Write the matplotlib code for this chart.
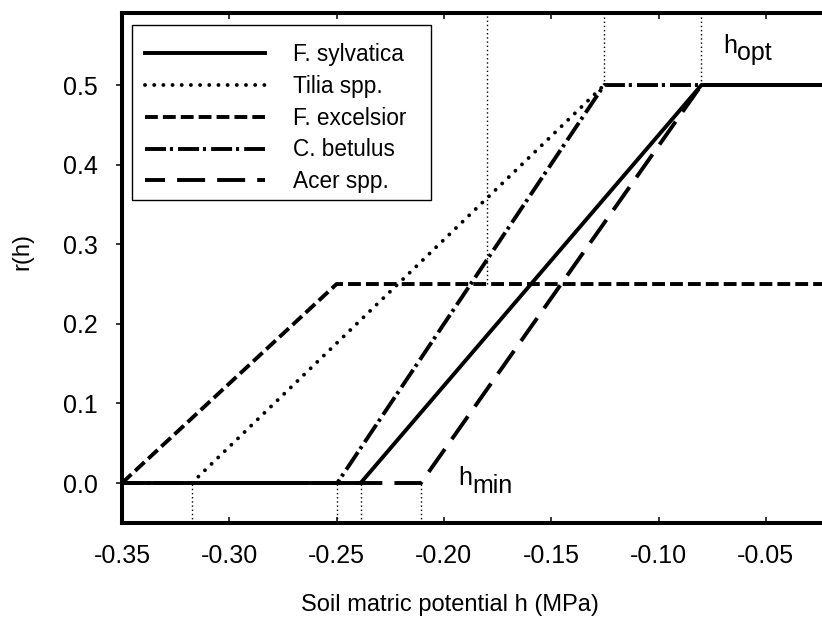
import matplotlib
matplotlib.use("Agg")
import matplotlib.pyplot as plt
from matplotlib.patches import Rectangle

plt.rcParams['font.family'] = ['Liberation Sans', 'DejaVu Sans']
plt.rcParams['axes.unicode_minus'] = False

# ---- data ----
species = ["F. sylvatica", "Tilia spp.", "F. excelsior", "C. betulus", "Acer spp."]
h_min = [-0.2388, -0.3175, -0.35, -0.2497, -0.2107]
h_opt = [-0.080, -0.1253, -0.25, -0.1253, -0.080]
r_max = [0.5, 0.5, 0.25, 0.5, 0.5]
h_start = [-0.35, -0.3175, -0.35, -0.35, -0.35]
h_end = [0.0, -0.1253, 0.0, 0.0, 0.0]

# dotted guide lines
guide_bottom_x = [-0.3175, -0.2497, -0.2388, -0.2107]
guide_top_x = [-0.18, -0.1253, -0.080]
guide_top_from = [0.25, 0.5, 0.5]

x_ticks = [-0.35, -0.30, -0.25, -0.20, -0.15, -0.10, -0.05]
y_ticks = [0.0, 0.1, 0.2, 0.3, 0.4, 0.5]

W, H = 822, 619
fig = plt.figure(figsize=(W / 100, H / 100), dpi=100)
ax_left, ax_right = 122, 822
ax_top, ax_bottom = 13.4, 522.8
ax = fig.add_axes([ax_left / W, 1 - ax_bottom / H, (ax_right - ax_left) / W, (ax_bottom - ax_top) / H])

xmin = -0.35
xmax = -0.35 + (ax_right - ax_left) / 2146.0
ymin, ymax = -0.05, 0.59
ax.set_xlim(xmin, xmax)
ax.set_ylim(ymin, ymax)

lw = 2.8
styles = {
    "F. sylvatica": dict(linestyle='-', zorder=6),
    "Tilia spp.": dict(linestyle=(0, (0.01, 2.35)), dash_capstyle='round', zorder=4),
    "F. excelsior": dict(linestyle=(0, (3.3, 1.3)), zorder=3),
    "C. betulus": dict(linestyle=(0, (5.4, 1.0, 0.8, 1.3)), zorder=5),
    "Acer spp.": dict(linestyle=(2.05, (7.2, 3.1)), zorder=2),
}

for name, hm, ho, rm, hs, he in zip(species, h_min, h_opt, r_max, h_start, h_end):
    xs = [hs, hm, ho]
    ys = [0.0, 0.0, rm]
    if he > ho:
        xs.append(he)
        ys.append(rm)
    ax.plot(xs, ys, color='black', lw=lw, label=name, **styles[name])

for gx in guide_bottom_x:
    ax.plot([gx, gx], [ymin, 0.0], color='black', lw=1.0, linestyle=(0, (1, 2)), zorder=1)
for gx, gy in zip(guide_top_x, guide_top_from):
    ax.plot([gx, gx], [gy, ymax], color='black', lw=1.0, linestyle=(0, (1, 2)), zorder=1)

for s in ['left', 'bottom', 'top']:
    ax.spines[s].set_linewidth(2.9)
ax.spines['right'].set_visible(False)

ax.set_xticks(x_ticks)
ax.set_xticklabels(["%.2f" % v for v in x_ticks])
ax.set_yticks(y_ticks)
ax.set_yticklabels(["%.1f" % v for v in y_ticks])
ax.tick_params(axis='x', direction='in', top=True, bottom=True, length=4.3, width=1.1,
               labelsize=18, pad=15.5)
ax.tick_params(axis='y', direction='out', left=True, right=False, length=4.3, width=1.1,
               labelsize=18, pad=13)

# legend frame drawn explicitly (inside the axes, below the legend)
ax.add_patch(Rectangle((132 / W, 1 - 200 / H), (431 - 132) / W, (200 - 25) / H,
                       transform=fig.transFigure, facecolor='white',
                       edgecolor='black', linewidth=1.0, zorder=9, clip_on=False))
leg = ax.legend(loc='upper left', bbox_to_anchor=(145 / W, 1 - 43 / H),
                bbox_transform=fig.transFigure, borderaxespad=0, fontsize=16.3,
                handlelength=5.3, handletextpad=1.24, borderpad=0, labelspacing=0.39,
                frameon=False)
leg.set_zorder(10)

def ftext(px, py, s, **kw):
    fig.text(px / W, 1 - py / H, s, **kw)

ftext(723, 53, "h", fontsize=18, ha='left', va='baseline')
ftext(737, 60, "opt", fontsize=18, ha='left', va='baseline')
ftext(458, 485, "h", fontsize=18, ha='left', va='baseline')
ftext(472, 493, "min", fontsize=18, ha='left', va='baseline')

ftext(450, 605, "Soil matric potential h (MPa)", fontsize=17, ha='center', va='center')
ftext(22, 252, "r(h)", fontsize=17, ha='center', va='center', rotation=90)

fig.savefig("out.png", dpi=100)
